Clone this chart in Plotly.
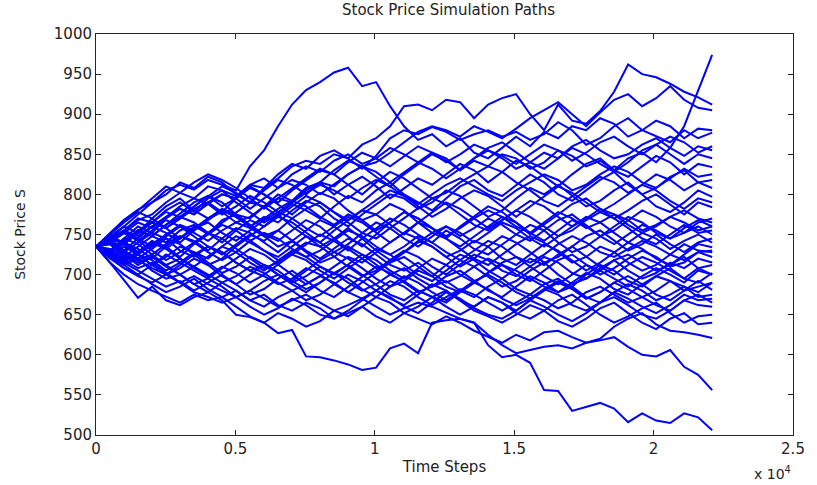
import numpy as np
import plotly.graph_objects as go

# Simulated stock price paths, sampled at 45 evenly spaced time steps (0 .. 22100)
T_END = 22100
N_POINTS = 45

path_01 = [735, 740, 755, 770, 765, 780, 790, 778, 795, 805, 798, 812, 820, 808, 825, 835, 828, 842, 850, 838, 845, 858, 850, 840, 852, 845, 830, 842, 835, 850, 845, 832, 840, 855, 848, 835, 842, 830, 845, 852, 840, 858, 885, 930, 974]
path_02 = [735, 728, 745, 760, 752, 770, 782, 775, 790, 800, 795, 812, 808, 825, 838, 832, 848, 855, 845, 862, 870, 885, 910, 912, 905, 918, 915, 895, 912, 920, 925, 900, 880, 912, 892, 888, 904, 928, 962, 950, 946, 938, 928, 921, 912]
path_03 = [735, 738, 722, 735, 748, 740, 755, 762, 750, 768, 775, 770, 785, 795, 790, 805, 815, 810, 825, 835, 840, 852, 865, 878, 885, 880, 872, 885, 878, 870, 882, 895, 905, 915, 900, 885, 902, 918, 925, 910, 920, 935, 918, 908, 905]
path_04 = [735, 752, 768, 781, 790, 805, 812, 806, 818, 812, 805, 835, 855, 885, 912, 930, 940, 952, 958, 935, 940, 910, 885, 868, 875, 860, 870, 852, 845, 858, 872, 860, 878, 870, 885, 880, 895, 888, 872, 880, 892, 885, 870, 882, 880]
path_05 = [735, 745, 760, 775, 790, 800, 815, 808, 822, 815, 800, 790, 808, 820, 835, 842, 838, 850, 845, 832, 848, 870, 880, 875, 884, 878, 868, 875, 880, 872, 878, 868, 875, 890, 880, 862, 870, 885, 895, 880, 872, 865, 880, 870, 877]
path_06 = [735, 728, 742, 755, 748, 762, 775, 790, 798, 785, 795, 810, 800, 790, 805, 818, 830, 825, 840, 852, 845, 835, 848, 860, 852, 840, 850, 862, 855, 845, 832, 840, 852, 845, 860, 868, 855, 845, 850, 862, 870, 858, 848, 860, 855]
path_07 = [735, 742, 730, 745, 760, 752, 740, 755, 770, 778, 765, 772, 785, 800, 792, 808, 815, 800, 812, 822, 810, 795, 808, 820, 812, 825, 838, 830, 815, 828, 842, 835, 822, 810, 825, 838, 845, 830, 822, 835, 848, 840, 825, 838, 834]
path_08 = [735, 730, 718, 725, 738, 750, 745, 760, 752, 740, 755, 768, 760, 775, 788, 780, 770, 785, 798, 790, 805, 815, 800, 790, 780, 795, 810, 818, 805, 798, 812, 825, 815, 800, 792, 805, 818, 828, 812, 800, 808, 822, 830, 815, 818]
path_09 = [735, 748, 760, 752, 770, 785, 795, 780, 770, 782, 775, 760, 772, 765, 780, 792, 785, 770, 760, 775, 788, 800, 795, 782, 790, 805, 798, 785, 772, 780, 795, 808, 800, 812, 798, 785, 792, 805, 815, 800, 785, 778, 790, 805, 797]
path_10 = [735, 725, 740, 732, 720, 735, 748, 742, 730, 745, 758, 752, 740, 728, 742, 755, 768, 760, 748, 735, 750, 765, 778, 770, 758, 745, 760, 772, 785, 778, 765, 750, 762, 775, 788, 795, 782, 770, 780, 792, 800, 788, 775, 790, 784]
path_11 = [735, 745, 738, 752, 765, 758, 770, 782, 790, 778, 795, 808, 800, 788, 775, 790, 802, 795, 780, 768, 775, 788, 780, 765, 752, 760, 748, 758, 770, 762, 750, 742, 755, 768, 775, 762, 748, 755, 768, 780, 772, 760, 752, 765, 770]
path_12 = [735, 722, 712, 725, 718, 705, 715, 728, 720, 735, 748, 740, 730, 718, 725, 738, 750, 742, 730, 745, 758, 770, 762, 750, 740, 755, 745, 732, 725, 738, 750, 762, 755, 740, 728, 735, 748, 760, 772, 765, 752, 745, 758, 768, 760]
path_13 = [735, 742, 755, 768, 775, 790, 802, 795, 810, 805, 790, 778, 765, 775, 760, 748, 735, 745, 758, 745, 730, 718, 728, 742, 735, 722, 710, 720, 735, 748, 740, 728, 715, 722, 735, 748, 755, 742, 730, 738, 750, 738, 728, 740, 745]
path_14 = [735, 720, 708, 700, 712, 725, 715, 705, 695, 708, 720, 732, 725, 712, 700, 688, 698, 710, 722, 715, 728, 740, 752, 745, 735, 722, 730, 742, 735, 720, 712, 725, 738, 730, 718, 705, 715, 728, 740, 732, 720, 712, 725, 738, 734]
path_15 = [735, 748, 740, 728, 735, 750, 762, 755, 768, 780, 772, 760, 748, 755, 742, 730, 720, 732, 745, 738, 725, 712, 705, 715, 702, 690, 698, 710, 720, 712, 700, 692, 705, 718, 725, 712, 700, 708, 720, 730, 722, 710, 715, 728, 722]
path_16 = [735, 730, 745, 738, 725, 712, 720, 708, 698, 710, 702, 690, 700, 712, 725, 718, 705, 695, 708, 720, 732, 725, 712, 700, 692, 705, 718, 710, 698, 685, 692, 705, 715, 700, 688, 695, 708, 718, 705, 695, 702, 715, 708, 720, 715]
path_17 = [735, 728, 715, 705, 695, 685, 692, 680, 690, 700, 688, 675, 682, 695, 705, 692, 680, 672, 685, 698, 710, 702, 690, 678, 685, 698, 705, 692, 680, 672, 685, 698, 690, 678, 685, 700, 712, 705, 692, 685, 698, 708, 695, 690, 702]
path_18 = [735, 740, 752, 745, 735, 748, 760, 752, 742, 755, 765, 758, 748, 735, 742, 728, 715, 722, 735, 725, 712, 700, 708, 695, 685, 692, 680, 672, 685, 695, 682, 675, 688, 695, 682, 670, 678, 690, 682, 672, 680, 692, 685, 678, 690]
path_19 = [735, 725, 712, 700, 688, 678, 685, 695, 682, 672, 680, 668, 660, 672, 680, 668, 675, 688, 700, 692, 680, 670, 662, 675, 688, 680, 668, 660, 672, 665, 655, 668, 680, 690, 682, 670, 678, 690, 698, 688, 675, 668, 680, 692, 681]
path_20 = [735, 738, 728, 740, 752, 745, 730, 722, 735, 728, 715, 705, 712, 700, 690, 698, 710, 702, 690, 680, 688, 700, 692, 680, 672, 665, 678, 690, 682, 670, 662, 670, 682, 675, 662, 655, 665, 678, 670, 660, 652, 662, 675, 668, 670]
path_21 = [735, 722, 708, 698, 690, 700, 690, 678, 672, 665, 672, 660, 650, 658, 670, 662, 650, 645, 655, 668, 680, 672, 660, 652, 665, 678, 670, 658, 650, 645, 655, 668, 660, 650, 642, 652, 665, 672, 662, 650, 645, 655, 668, 662, 660]
path_22 = [735, 740, 725, 715, 722, 710, 700, 688, 695, 685, 672, 680, 692, 700, 688, 678, 690, 702, 712, 700, 688, 675, 668, 680, 672, 660, 650, 660, 672, 665, 652, 645, 655, 668, 675, 662, 650, 640, 648, 658, 665, 652, 640, 648, 650]
path_23 = [735, 715, 700, 688, 680, 672, 665, 675, 668, 672, 660, 648, 640, 652, 645, 635, 642, 655, 648, 660, 672, 665, 652, 660, 672, 680, 668, 655, 648, 640, 650, 662, 655, 642, 635, 645, 658, 665, 652, 640, 632, 645, 652, 638, 640]
path_24 = [735, 725, 712, 720, 705, 695, 700, 688, 678, 690, 680, 668, 675, 662, 655, 665, 658, 645, 652, 660, 648, 640, 652, 645, 638, 648, 640, 630, 622, 615, 625, 618, 628, 630, 622, 615, 620, 635, 645, 652, 638, 630, 628, 625, 621]
path_25 = [735, 730, 718, 708, 715, 702, 690, 698, 688, 680, 672, 680, 670, 660, 668, 675, 665, 655, 662, 670, 660, 650, 658, 665, 660, 652, 645, 640, 625, 612, 602, 606, 610, 612, 608, 615, 618, 622, 610, 600, 598, 606, 585, 575, 556]
path_26 = [735, 715, 693, 671, 685, 668, 662, 672, 678, 668, 650, 647, 640, 627, 631, 598, 597, 593, 588, 581, 584, 608, 614, 602, 640, 643, 645, 640, 612, 597, 600, 590, 556, 555, 530, 535, 540, 533, 516, 527, 518, 515, 527, 522, 506]
path_27 = [735, 750, 765, 778, 770, 758, 770, 785, 798, 790, 775, 762, 750, 742, 755, 768, 760, 745, 732, 720, 708, 715, 728, 740, 752, 745, 732, 720, 712, 725, 738, 748, 740, 728, 715, 722, 735, 728, 715, 705, 712, 725, 738, 730, 728]
path_28 = [735, 745, 730, 720, 732, 745, 738, 725, 712, 720, 735, 748, 760, 772, 765, 752, 740, 755, 768, 780, 775, 762, 750, 765, 778, 790, 782, 770, 758, 768, 780, 772, 760, 748, 755, 768, 778, 770, 758, 745, 738, 750, 762, 752, 755]
path_29 = [735, 752, 768, 780, 795, 810, 802, 815, 825, 818, 808, 795, 782, 795, 808, 820, 832, 825, 812, 800, 815, 828, 820, 808, 795, 802, 815, 825, 835, 828, 815, 805, 792, 785, 798, 810, 822, 815, 802, 812, 825, 818, 805, 815, 808]
path_30 = [735, 728, 738, 725, 712, 722, 735, 728, 715, 702, 710, 722, 712, 700, 692, 705, 718, 728, 720, 708, 695, 685, 692, 705, 698, 685, 678, 690, 702, 712, 705, 695, 685, 678, 690, 702, 695, 682, 675, 688, 698, 692, 680, 685, 690]
path_31 = [735, 740, 752, 742, 755, 768, 760, 748, 735, 725, 738, 750, 742, 755, 770, 782, 790, 778, 765, 752, 745, 758, 770, 782, 795, 788, 775, 762, 755, 768, 780, 792, 785, 772, 760, 770, 782, 775, 762, 752, 760, 772, 780, 770, 765]
path_32 = [735, 748, 738, 752, 765, 778, 772, 785, 798, 810, 802, 790, 805, 818, 812, 800, 815, 830, 842, 835, 822, 810, 825, 838, 850, 842, 830, 845, 858, 865, 852, 840, 832, 845, 858, 850, 838, 828, 840, 855, 862, 850, 838, 850, 845]
path_33 = [735, 722, 730, 718, 708, 700, 712, 725, 735, 728, 715, 705, 698, 688, 695, 708, 700, 688, 678, 690, 702, 715, 722, 710, 698, 712, 725, 718, 705, 695, 708, 720, 712, 725, 735, 722, 710, 700, 712, 722, 715, 705, 695, 708, 700]
path_34 = [735, 732, 720, 728, 742, 735, 722, 738, 750, 762, 755, 742, 730, 722, 735, 748, 740, 728, 738, 752, 765, 758, 745, 735, 748, 760, 752, 740, 752, 765, 758, 745, 735, 748, 760, 772, 765, 752, 740, 752, 745, 732, 742, 750, 740]
path_35 = [735, 745, 755, 742, 730, 718, 728, 740, 752, 745, 732, 720, 708, 715, 728, 740, 735, 722, 710, 698, 705, 718, 730, 722, 710, 700, 712, 725, 718, 705, 698, 710, 722, 715, 702, 695, 705, 718, 725, 715, 705, 712, 722, 708, 712]
path_36 = [735, 728, 740, 755, 748, 762, 772, 765, 752, 765, 778, 790, 785, 772, 785, 798, 790, 778, 768, 780, 792, 805, 798, 785, 772, 782, 795, 805, 798, 785, 772, 785, 798, 810, 802, 790, 778, 788, 800, 812, 805, 792, 782, 795, 790]
path_37 = [735, 722, 735, 725, 712, 700, 708, 720, 712, 698, 688, 700, 712, 705, 692, 682, 690, 702, 695, 682, 672, 685, 698, 690, 678, 668, 680, 692, 700, 690, 678, 670, 682, 692, 685, 672, 665, 678, 688, 680, 668, 675, 685, 672, 675]
path_38 = [735, 748, 738, 728, 740, 732, 745, 758, 765, 752, 742, 755, 768, 778, 770, 758, 748, 760, 772, 765, 752, 740, 752, 765, 758, 745, 735, 748, 760, 772, 765, 752, 742, 755, 768, 760, 748, 738, 750, 762, 755, 745, 752, 760, 750]
path_39 = [735, 742, 752, 765, 758, 772, 785, 795, 788, 775, 785, 798, 790, 778, 790, 802, 812, 805, 795, 808, 818, 810, 798, 788, 800, 812, 820, 810, 800, 792, 805, 815, 825, 818, 805, 812, 825, 835, 828, 815, 808, 820, 832, 822, 825]
path_40 = [735, 725, 715, 728, 740, 732, 720, 710, 722, 735, 728, 715, 705, 718, 730, 722, 710, 700, 712, 725, 718, 705, 695, 708, 720, 712, 700, 690, 702, 715, 722, 710, 698, 688, 700, 712, 705, 695, 685, 698, 708, 700, 690, 705, 700]
path_41 = [735, 730, 742, 755, 765, 758, 745, 758, 770, 780, 772, 760, 770, 782, 792, 785, 772, 762, 775, 768, 755, 765, 778, 770, 758, 748, 758, 770, 780, 772, 760, 752, 765, 778, 770, 758, 765, 775, 768, 755, 762, 772, 765, 755, 760]
path_42 = [735, 738, 725, 712, 722, 712, 700, 710, 700, 690, 698, 710, 702, 690, 680, 688, 698, 690, 678, 670, 680, 692, 685, 672, 662, 672, 682, 675, 665, 655, 665, 675, 668, 658, 665, 678, 685, 675, 665, 672, 662, 655, 668, 675, 665]
path_43 = [735, 745, 755, 748, 760, 772, 782, 775, 788, 800, 795, 782, 795, 808, 818, 812, 800, 812, 825, 835, 828, 815, 828, 840, 832, 820, 832, 845, 855, 848, 838, 850, 862, 855, 842, 852, 865, 872, 860, 850, 862, 872, 865, 852, 860]
path_44 = [735, 740, 728, 718, 725, 738, 748, 740, 728, 718, 728, 742, 752, 745, 732, 722, 730, 742, 755, 748, 735, 725, 735, 748, 740, 728, 718, 730, 742, 735, 722, 715, 725, 738, 748, 740, 728, 722, 732, 742, 735, 725, 718, 728, 730]

paths = [path_01, path_02, path_03, path_04, path_05, path_06, path_07, path_08,
         path_09, path_10, path_11, path_12, path_13, path_14, path_15, path_16,
         path_17, path_18, path_19, path_20, path_21, path_22, path_23, path_24,
         path_25, path_26, path_27, path_28, path_29, path_30, path_31, path_32,
         path_33, path_34, path_35, path_36, path_37, path_38, path_39, path_40,
         path_41, path_42, path_43, path_44]

x_tick_vals = [0, 5000, 10000, 15000, 20000, 25000]
x_tick_text = ["0", "0.5", "1", "1.5", "2", "2.5"]
y_tick_vals = [500, 550, 600, 650, 700, 750, 800, 850, 900, 950, 1000]

steps = np.linspace(0, T_END, N_POINTS)

FONT = "DejaVu Sans"
AXIS_COLOR = "#262626"
TEXT_COLOR = "#222222"

fig = go.Figure()
for p in paths:
    fig.add_trace(go.Scatter(
        x=steps, y=p, mode="lines",
        line=dict(color="#0000ff", width=2),
        showlegend=False, hoverinfo="skip",
    ))

axis_common = dict(
    showline=True, linecolor=AXIS_COLOR, linewidth=1, mirror="ticks",
    ticks="inside", ticklen=5, tickcolor=AXIS_COLOR, tickwidth=1,
    showgrid=False, zeroline=False,
    tickfont=dict(family=FONT, size=15, color=TEXT_COLOR),
)

fig.update_xaxes(range=[0, 25000], tickvals=x_tick_vals, ticktext=x_tick_text,
                 title=dict(text="Time Steps", font=dict(family=FONT, size=15, color=TEXT_COLOR), standoff=4),
                 **axis_common)
fig.update_yaxes(range=[500, 1000], tickvals=y_tick_vals,
                 title=dict(text="Stock Price S", font=dict(family=FONT, size=14, color=TEXT_COLOR), standoff=24),
                 **axis_common)

fig.add_annotation(
    text="x 10<sup>4</sup>", xref="paper", yref="paper", x=1.0, y=-0.094,
    xanchor="right", yanchor="middle", showarrow=False,
    font=dict(family=FONT, size=14, color=TEXT_COLOR),
)

fig.update_layout(
    width=817, height=485,
    margin=dict(l=96, r=16, t=34, b=50),
    paper_bgcolor="white", plot_bgcolor="white",
    title=dict(text="Stock Price Simulation Paths", x=0.549, xanchor="center",
               y=0.99, yanchor="top", font=dict(family=FONT, size=15, color=TEXT_COLOR)),
)

fig.write_html("out.html")
